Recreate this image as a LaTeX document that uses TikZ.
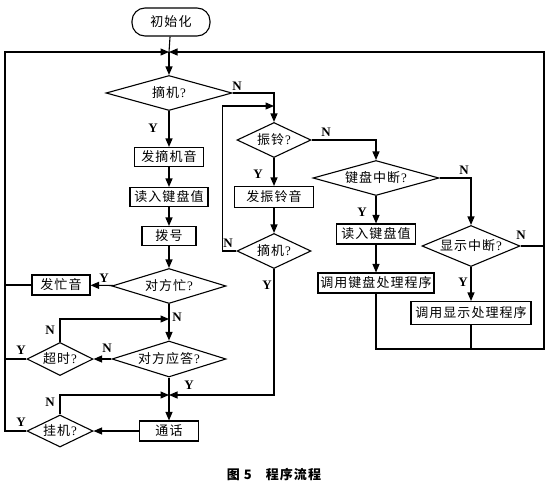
\documentclass[tikz,border=0pt]{standalone}
\usepackage{fontspec}
\setmainfont{Liberation Serif}
\newfontfamily\cjk[LetterSpace=8]{Noto Sans CJK SC}
\usetikzlibrary{shapes.geometric,arrows.meta}
\newcommand\qm{\textrm{?}}
\tikzset{
  base/.style={draw, line width=1.1pt, inner sep=0pt, font=\cjk\fontsize{13}{15}\selectfont},
  pbox/.style={base, rectangle},
  dec/.style={base, diamond, aspect=#1},
  term/.style={base, rectangle, rounded corners=13pt},
  conn/.style={line width=1.1pt},
  arr/.style={line width=1.1pt, -{Triangle[length=8.5pt,width=7pt]}},
  yn/.style={font=\bfseries\fontsize{13}{15}\selectfont, inner sep=0pt},
}
\begin{document}
\begin{tikzpicture}[x=1pt,y=-1pt]
\useasboundingbox[fill=white] (0,0) rectangle (556,490);
% nodes
\node[term, minimum width=78pt, minimum height=28pt] (init) at (171,22) {初始化};
\node[dec=3.6, minimum width=126pt, minimum height=35pt] (d1) at (169,93) {摘机\qm};
\node[pbox, minimum width=69pt, minimum height=19pt] (b1) at (169,157) {发摘机音};
\node[pbox, minimum width=78pt, minimum height=19pt] (b2) at (169,197) {读入键盘值};
\node[pbox, minimum width=54pt, minimum height=19pt] (b3) at (169,236) {拨号};
\node[dec=3.3, minimum width=114pt, minimum height=35pt] (d2) at (169,286) {对方忙\qm};
\node[pbox, minimum width=58pt, minimum height=20pt] (b4) at (61,285) {发忙音};
\node[dec=3.2, minimum width=114pt, minimum height=36pt] (d3) at (169,359) {对方应答\qm};
\node[dec=2, minimum width=66pt, minimum height=33pt] (d4) at (60,359) {超时\qm};
\node[pbox, minimum width=59pt, minimum height=20pt] (b5) at (169,431) {通话};
\node[dec=2, minimum width=66pt, minimum height=32pt] (d5) at (60,431) {挂机\qm};
\node[dec=2.1, minimum width=74pt, minimum height=35pt] (d6) at (274,140) {振铃\qm};
\node[pbox, minimum width=79pt, minimum height=21pt] (b6) at (274,197) {发振铃音};
\node[dec=2.1, minimum width=74pt, minimum height=35pt] (d7) at (274,251) {摘机\qm};
\node[dec=3.6, minimum width=126pt, minimum height=35pt] (d8) at (376,178) {键盘中断\qm};
\node[pbox, minimum width=79pt, minimum height=20pt] (b7) at (376,234) {读入键盘值};
\node[pbox, minimum width=116pt, minimum height=20pt] (b8) at (376,283) {调用键盘处理程序};
\node[dec=2.4, minimum width=98pt, minimum height=41pt] (d9) at (471,246) {显示中断\qm};
\node[pbox, minimum width=120pt, minimum height=23pt] (b9) at (471,313) {调用显示处理程序};
% coordinates
\coordinate (j1) at (169,52);
\coordinate (lc) at (5,52);
\coordinate (rc) at (544,52);
\coordinate (rb) at (544,349);
\coordinate (m1) at (274,106);
\coordinate (j3) at (169,319);
\coordinate (j2) at (169,395);
% main column
\draw[conn] (init) -- (j1);
\draw[arr] (j1) -- (d1);
\draw[arr] (d1) -- (b1);
\draw[arr] (b1) -- (b2);
\draw[arr] (b2) -- (b3);
\draw[arr] (b3) -- (d2);
\draw[arr] (d2) -- (b4);
\draw[arr] (d2) -- (d3);
\draw[arr] (d3) -- (d4);
\draw[arr] (d4.north) |- (j3);
\draw[conn] (d3) -- (j2);
\draw[arr] (j2) -- (b5);
\draw[arr] (b5) -- (d5);
\draw[arr] (d5.north) |- (j2);
% left loop
\draw[arr] (d5.west) -- (d5.west -| lc) -- (lc) -- (j1);
\draw[conn] (b4.west) -- (b4.west -| lc);
\draw[conn] (d4.west) -- (d4.west -| lc);
% middle column
\draw[arr] (d1.east) -| (d6.north);
\draw[arr] (d6) -- (b6);
\draw[arr] (b6) -- (d7);
\draw[arr] (d7.west) -- ++(-14,0) |- (m1);
\draw[arr] (d7.south) |- (j2);
% right columns
\draw[arr] (d6.east) -| (d8.north);
\draw[arr] (d8) -- (b7);
\draw[arr] (b7) -- (b8);
\draw[arr] (d8.east) -| (d9.north);
\draw[arr] (d9) -- (b9);
\draw[arr] (b8.south) -- (b8.south |- rb) -- (rb) -- (rc) -- (j1);
\draw[conn] (b9.south) -- (b9.south |- rb);
\draw[conn] (d9.east) -- (d9.east -| rb);
% labels
\node[yn] (l1) at (237,86) {N};
\node[yn] (l2) at (153,128) {Y};
\node[yn] (l3) at (104,278) {Y};
\node[yn] (l4) at (177,317) {N};
\node[yn] (l5) at (50,330) {N};
\node[yn] (l6) at (107,348) {N};
\node[yn] (l7) at (21,350) {Y};
\node[yn] (l8) at (189,385) {Y};
\node[yn] (l9) at (50,402) {N};
\node[yn] (l10) at (21,422) {Y};
\node[yn] (l11) at (326,132) {N};
\node[yn] (l12) at (258,174) {Y};
\node[yn] (l13) at (228,243) {N};
\node[yn] (l14) at (267,285) {Y};
\node[yn] (l15) at (464,170) {N};
\node[yn] (l16) at (362,212) {Y};
\node[yn] (l17) at (521,235) {N};
\node[yn] (l18) at (463,282) {Y};
% caption
\node[font=\cjk\bfseries\fontsize{13}{15}\selectfont, inner sep=0pt] (cap) at (274,475) {图\hspace{4pt}5\hspace{14pt}程序流程};
\end{tikzpicture}
\end{document}
